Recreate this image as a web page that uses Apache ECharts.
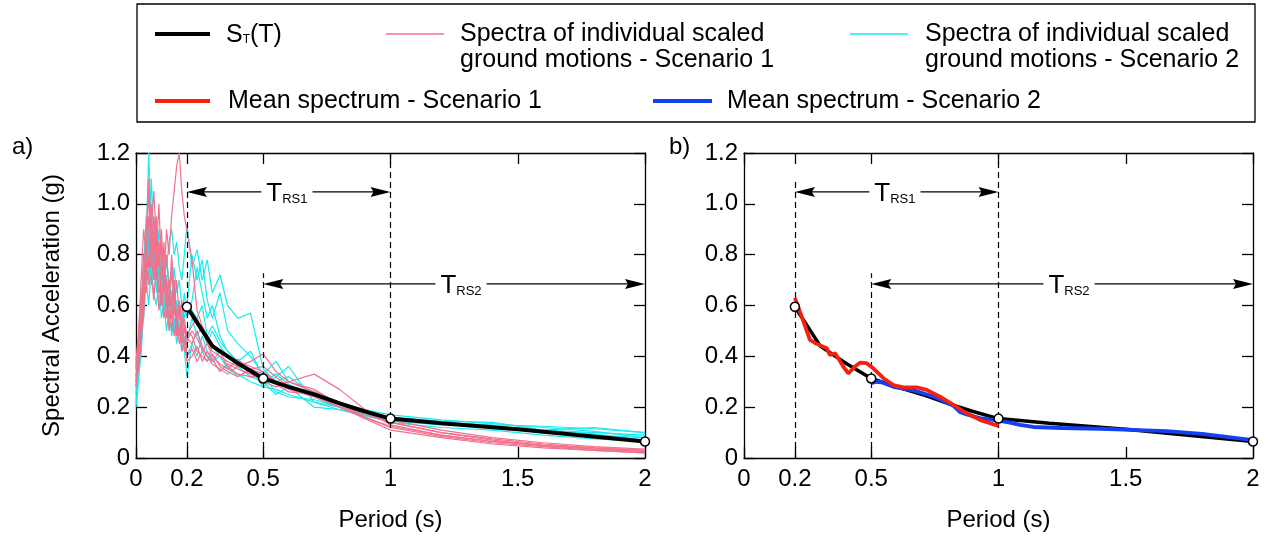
<!DOCTYPE html>
<html><head><meta charset="utf-8">
<script src="https://cdn.jsdelivr.net/npm/echarts@6/dist/echarts.min.js"></script>
<style>html,body{margin:0;padding:0;background:#fff}#c{width:1270px;height:545px}</style>
</head><body><div id="c"></div>
<script>
// ---------------- data ----------------
const periods = [0,0.01,0.02,0.03,0.04,0.05,0.06,0.07,0.08,0.09,
  0.10,0.11,0.12,0.13,0.14,0.15,0.16,0.17,0.18,0.19,
  0.20,0.22,0.24,0.26,0.28,0.30,0.33,0.36,0.40,0.45,
  0.50,0.55,0.60,0.70,0.80,0.90,1.00,1.20,1.40,1.60,
  1.80,2.00];

const scen1_gm1 = [0.30,0.35,0.45,0.60,0.75,0.70,0.85,0.80,0.95,0.75,0.85,0.70,0.90,0.80,0.95,1.05,1.15,1.20,1.05,0.95,0.90,0.78,0.58,0.52,0.48,0.45,0.42,0.40,0.38,0.36,0.34,0.30,0.27,0.24,0.20,0.16,0.125,0.09,0.065,0.05,0.035,0.025];
const scen1_gm2 = [0.28,0.40,0.55,0.70,0.90,1.10,0.85,0.95,0.80,1.00,0.75,0.70,0.80,0.65,0.75,0.60,0.70,0.55,0.62,0.50,0.48,0.52,0.55,0.50,0.45,0.42,0.40,0.38,0.36,0.35,0.33,0.30,0.28,0.25,0.21,0.17,0.14,0.10,0.075,0.055,0.04,0.03];
const scen1_gm3 = [0.35,0.45,0.60,0.80,0.70,0.95,0.90,1.05,0.85,0.75,0.90,0.65,0.70,0.60,0.80,0.65,0.55,0.60,0.50,0.55,0.47,0.45,0.50,0.44,0.40,0.38,0.42,0.36,0.33,0.32,0.32,0.29,0.26,0.25,0.22,0.18,0.15,0.11,0.08,0.06,0.045,0.035];
const scen1_gm4 = [0.38,0.50,0.65,0.55,0.85,0.75,1.00,0.70,0.80,0.65,0.70,0.85,0.60,0.70,0.55,0.65,0.50,0.58,0.45,0.52,0.40,0.43,0.38,0.42,0.45,0.40,0.37,0.35,0.39,0.34,0.30,0.28,0.30,0.27,0.21,0.16,0.12,0.085,0.06,0.045,0.03,0.02];
const scen1_gm5 = [0.32,0.42,0.50,0.70,0.65,0.80,0.75,0.90,0.70,0.85,0.60,0.75,0.65,0.55,0.60,0.70,0.52,0.48,0.55,0.45,0.50,0.48,0.42,0.40,0.38,0.41,0.36,0.34,0.32,0.35,0.36,0.32,0.28,0.25,0.20,0.155,0.11,0.08,0.055,0.04,0.03,0.02];
const scen1_gm6 = [0.30,0.38,0.48,0.62,0.78,0.68,0.72,0.62,0.78,0.58,0.65,0.55,0.62,0.50,0.58,0.48,0.55,0.45,0.50,0.42,0.46,0.50,0.47,0.43,0.40,0.37,0.35,0.33,0.36,0.38,0.41,0.34,0.30,0.26,0.22,0.18,0.14,0.10,0.07,0.05,0.04,0.03];
const scen1_gm7 = [0.36,0.48,0.70,0.90,0.80,1.05,0.80,0.70,0.90,0.80,0.62,0.70,0.55,0.65,0.50,0.60,0.48,0.52,0.42,0.46,0.38,0.40,0.44,0.38,0.42,0.39,0.34,0.37,0.35,0.33,0.31,0.29,0.30,0.33,0.27,0.19,0.13,0.09,0.065,0.05,0.035,0.025];

const scen2_gm1 = [0.20,0.30,0.45,0.60,0.85,1.20,0.90,0.75,0.80,0.65,0.70,0.60,0.72,0.55,0.65,0.50,0.60,0.48,0.55,0.42,0.32,0.45,0.40,0.48,0.42,0.38,0.40,0.35,0.33,0.30,0.28,0.27,0.25,0.22,0.19,0.17,0.15,0.135,0.125,0.11,0.10,0.09];
const scen2_gm2 = [0.25,0.35,0.50,0.70,0.65,0.90,0.80,0.95,0.75,0.85,0.70,0.80,0.75,0.85,0.90,0.80,0.85,0.75,0.70,0.80,0.92,0.75,0.82,0.70,0.78,0.65,0.72,0.60,0.55,0.57,0.35,0.30,0.32,0.25,0.21,0.18,0.16,0.145,0.14,0.11,0.12,0.10];
const scen2_gm3 = [0.30,0.40,0.55,0.75,0.95,0.80,1.10,0.85,0.70,0.90,0.80,0.65,0.78,0.70,0.60,0.75,0.65,0.70,0.60,0.55,0.60,0.80,0.70,0.78,0.62,0.55,0.65,0.50,0.45,0.40,0.33,0.38,0.30,0.26,0.22,0.19,0.17,0.15,0.135,0.12,0.105,0.08];
const scen2_gm4 = [0.35,0.42,0.48,0.55,0.70,0.60,0.75,0.65,0.60,0.70,0.55,0.62,0.50,0.58,0.48,0.55,0.45,0.52,0.42,0.48,0.40,0.45,0.50,0.42,0.38,0.44,0.40,0.36,0.32,0.35,0.30,0.33,0.29,0.24,0.20,0.17,0.15,0.14,0.13,0.125,0.115,0.10];
const scen2_gm5 = [0.28,0.38,0.52,0.68,0.80,0.70,0.85,0.72,0.95,0.78,0.65,0.75,0.68,0.60,0.72,0.65,0.58,0.62,0.55,0.65,0.55,0.62,0.75,0.65,0.55,0.60,0.48,0.42,0.38,0.35,0.28,0.32,0.36,0.22,0.20,0.17,0.14,0.12,0.11,0.09,0.075,0.065];
const scen2_gm6 = [0.22,0.33,0.40,0.58,0.72,0.95,0.68,0.80,0.65,0.75,0.60,0.70,0.62,0.52,0.66,0.56,0.62,0.50,0.58,0.52,0.46,0.55,0.48,0.52,0.45,0.50,0.44,0.40,0.36,0.32,0.30,0.25,0.28,0.20,0.19,0.165,0.145,0.13,0.12,0.10,0.09,0.08];
const scen2_gm7 = [0.32,0.40,0.50,0.62,0.78,0.88,0.72,0.85,0.68,0.60,0.78,0.58,0.66,0.62,0.55,0.70,0.52,0.60,0.50,0.58,0.62,0.58,0.55,0.60,0.48,0.52,0.46,0.42,0.38,0.42,0.32,0.26,0.24,0.23,0.20,0.18,0.16,0.14,0.125,0.11,0.095,0.07];

const scen1Spectra = [scen1_gm1,scen1_gm2,scen1_gm3,scen1_gm4,scen1_gm5,scen1_gm6,scen1_gm7];
const scen2Spectra = [scen2_gm1,scen2_gm2,scen2_gm3,scen2_gm4,scen2_gm5,scen2_gm6,scen2_gm7];

const targetPeriods = [0.2,0.3,0.4,0.5,0.6,0.7,0.8,0.9,1.0,1.2,1.5,2.0];
const targetSa      = [0.595,0.44,0.373,0.313,0.28,0.25,0.215,0.183,0.155,0.137,0.113,0.065];
const anchorPeriods = [0.2,0.5,1.0,2.0];

const mean1Periods = [0.2,0.227,0.259,0.286,0.325,0.338,0.358,0.39,0.41,0.436,0.456,0.482,0.508,0.548,0.587,0.626,0.679,0.718,0.77,0.823,0.875,0.927,1.0];
const mean1Sa      = [0.63,0.556,0.465,0.449,0.432,0.405,0.412,0.36,0.333,0.36,0.375,0.373,0.353,0.314,0.287,0.278,0.278,0.268,0.241,0.209,0.176,0.15,0.126];
const mean2Periods = [0.5,0.52,0.54,0.587,0.67,0.75,0.823,0.85,0.875,0.927,1.0,1.04,1.084,1.136,1.25,1.4,1.55,1.66,1.8,2.0];
const mean2Sa      = [0.294,0.3,0.298,0.28,0.265,0.24,0.205,0.18,0.171,0.157,0.147,0.14,0.13,0.122,0.118,0.115,0.11,0.106,0.095,0.07];

const xTickValues = [0,0.2,0.5,1,1.5,2];
const yTicks = {min:0, max:1.2, interval:0.2};

// annotation definitions (period ranges and levels)
const rangeArrows = [
  {from:0.2, to:1.0, level:1.047, labelAt:0.593, sub:'RS1'},
  {from:0.5, to:2.0, level:0.685, labelAt:1.277, sub:'RS2'}
];
const dashTops = [[0.2,1.094],[0.5,0.727],[1.0,1.2]];

// ---------------- chart ----------------
const FONT = '"Liberation Sans", Arial, sans-serif';
const PINK = '#F2718D', CYAN = '#1AEAF0', RED = '#F5200E', BLUE = '#1340F2';
const pairs = (xs, ys) => xs.map((x,i)=>[x, ys[i]]);
const anchorData = anchorPeriods.map(p => [p, targetSa[targetPeriods.indexOf(p)]]);

const chart = echarts.init(document.getElementById('c'), null, {renderer:'canvas'});

function xAxes(gi){
  const common = {type:'value', gridIndex:gi, min:0, max:2, splitLine:{show:false},
    axisLine:{show:true, onZero:false, lineStyle:{color:'#000', width:1.3}},
    axisTick:{show:true, inside:true, length:11, customValues:xTickValues, lineStyle:{color:'#000', width:1.3}}};
  return [
    Object.assign({}, common, {position:'bottom',
      axisLabel:{show:true, customValues:xTickValues, formatter:v=>String(+v.toFixed(1)), fontSize:24, color:'#000', fontFamily:FONT, margin:9},
      name:'Period (s)', nameLocation:'middle', nameGap:50,
      nameTextStyle:{fontSize:24, color:'#000', fontFamily:FONT}}),
    Object.assign({}, common, {position:'top', axisLabel:{show:false}})
  ];
}
function yAxes(gi, withName){
  const common = {type:'value', gridIndex:gi, min:yTicks.min, max:yTicks.max, interval:yTicks.interval, splitLine:{show:false},
    axisLine:{show:true, onZero:false, lineStyle:{color:'#000', width:1.3}},
    axisTick:{show:true, inside:true, length:11, lineStyle:{color:'#000', width:1.3}}};
  const left = Object.assign({}, common, {position:'left',
    axisLabel:{show:true, formatter:v=> v===0 ? '0' : v.toFixed(1), fontSize:24, color:'#000', fontFamily:FONT, margin:6}});
  if (withName) Object.assign(left, {name:'Spectral Acceleration (g)', nameLocation:'middle', nameGap:72,
      nameTextStyle:{fontSize:24, color:'#000', fontFamily:FONT}});
  return [left, Object.assign({}, common, {position:'right', axisLabel:{show:false}})];
}

const series = [];
function annotationSeries(xi, yi){
  series.push({type:'line', xAxisIndex:xi, yAxisIndex:yi, data:[], silent:true,
    markLine:{silent:true, symbol:'none', z:6, animation:false,
      lineStyle:{color:'#000', width:1.2, type:[6,4]}, label:{show:false},
      data: dashTops.map(d => [{coord:[d[0],0]},{coord:[d[0],d[1]]}])}});
  series.push({type:'custom', xAxisIndex:xi, yAxisIndex:yi, silent:true, z:7, clip:false,
    data: rangeArrows.map(r => [r.from, r.to, r.level, r.labelAt]),
    renderItem:(params, api) => {
      const r = rangeArrows[params.dataIndex];
      const p1 = api.coord([api.value(0), api.value(2)]);
      const p2 = api.coord([api.value(1), api.value(2)]);
      const pl = api.coord([api.value(3), api.value(2)]);
      const L = 20, H = 5, N = 3, y = p1[1];
      return {type:'group', children:[
        {type:'line', shape:{x1:p1[0]+4, y1:y, x2:p2[0]-4, y2:y}, style:{stroke:'#000', lineWidth:1.3}},
        {type:'polygon', shape:{points:[[p1[0],y],[p1[0]+L,y-H],[p1[0]+L-N,y],[p1[0]+L,y+H]]}, style:{fill:'#000'}},
        {type:'polygon', shape:{points:[[p2[0],y],[p2[0]-L,y-H],[p2[0]-L+N,y],[p2[0]-L,y+H]]}, style:{fill:'#000'}},
        {type:'text', x:pl[0], y:pl[1], z2:10, style:{text:'{t|T}{s|'+r.sub+'}', align:'center', verticalAlign:'middle',
          backgroundColor:'#fff', padding:[0,5,0,5],
          rich:{t:{fontSize:26, fontFamily:FONT, fill:'#000', lineHeight:30, verticalAlign:'bottom'},
                s:{fontSize:13, fontFamily:FONT, fill:'#000', lineHeight:14, verticalAlign:'bottom', padding:[0,0,1,0]}}}}
      ]};
    }});
}

// panel a
scen2Spectra.forEach(ys => series.push({type:'line', name:'Spectra of individual scaled ground motions - Scenario 2', xAxisIndex:0, yAxisIndex:0,
  data:pairs(periods, ys), symbol:'none', lineStyle:{color:CYAN, width:1.2}, silent:true, z:2}));
scen1Spectra.forEach(ys => series.push({type:'line', name:'Spectra of individual scaled ground motions - Scenario 1', xAxisIndex:0, yAxisIndex:0,
  data:pairs(periods, ys), symbol:'none', lineStyle:{color:PINK, width:1.2}, silent:true, z:2}));
annotationSeries(0,0);
series.push({type:'line', name:'S_T(T)', xAxisIndex:0, yAxisIndex:0, data:pairs(targetPeriods, targetSa),
  symbol:'none', lineStyle:{color:'#000', width:4}, z:8});
series.push({type:'scatter', xAxisIndex:0, yAxisIndex:0, data:anchorData, symbol:'circle', symbolSize:9,
  itemStyle:{color:'#fff', borderColor:'#000', borderWidth:1.5, opacity:1}, z:10, clip:false});

// panel b
annotationSeries(2,2);
series.push({type:'line', name:'S_T(T)', xAxisIndex:2, yAxisIndex:2, data:pairs(targetPeriods, targetSa),
  symbol:'none', lineStyle:{color:'#000', width:3.5}, z:8});
series.push({type:'line', name:'Mean spectrum - Scenario 2', xAxisIndex:2, yAxisIndex:2, data:pairs(mean2Periods, mean2Sa),
  symbol:'none', lineStyle:{color:BLUE, width:3.8}, z:9});
series.push({type:'line', name:'Mean spectrum - Scenario 1', xAxisIndex:2, yAxisIndex:2, data:pairs(mean1Periods, mean1Sa),
  symbol:'none', lineStyle:{color:RED, width:3.8}, z:9});
series.push({type:'scatter', xAxisIndex:2, yAxisIndex:2, data:anchorData, symbol:'circle', symbolSize:9,
  itemStyle:{color:'#fff', borderColor:'#000', borderWidth:1.5, opacity:1}, z:10, clip:false});

// legend drawn as graphic (texts kept as real text)
const LF = 25;
const txt = (x, y, text, extra) => ({type:'text', x, y, silent:true,
  style:Object.assign({text, fontSize:LF, fontFamily:FONT, fill:'#000', verticalAlign:'middle', align:'left'}, extra||{})});
const seg = (x1, x2, y, color, w) => ({type:'line', silent:true, shape:{x1, y1:y, x2, y2:y}, style:{stroke:color, lineWidth:w}});
const legendRow1 = 34, legendRow3 = 101;
const graphic = [
  {type:'rect', silent:true, shape:{x:137, y:4, width:1118, height:118}, style:{fill:'none', stroke:'#000', lineWidth:1.3}},
  seg(155, 210, legendRow1, '#000', 4),
  txt(226, legendRow1, '{a|S}{b|T}{a|(T)}', {rich:{a:{fontSize:LF, fontFamily:FONT, fill:'#000', lineHeight:28, verticalAlign:'bottom'},
                                              b:{fontSize:12, fontFamily:FONT, fill:'#000', lineHeight:12, verticalAlign:'bottom', padding:[0,0,2,0]}}}),
  seg(386, 444, legendRow1, PINK, 1.3),
  txt(460, legendRow1 - 13, 'Spectra of individual scaled\nground motions - Scenario 1', {verticalAlign:'top', lineHeight:26}),
  seg(850, 908, legendRow1, CYAN, 1.3),
  txt(925, legendRow1 - 13, 'Spectra of individual scaled\nground motions - Scenario 2', {verticalAlign:'top', lineHeight:26}),
  seg(155, 210, legendRow3, RED, 4),
  txt(228, legendRow3, 'Mean spectrum - Scenario 1'),
  seg(653, 712, legendRow3, BLUE, 4),
  txt(727, legendRow3, 'Mean spectrum - Scenario 2'),
  {type:'text', x:12, y:147, silent:true, style:{text:'a)', fontSize:24, fontFamily:FONT, fill:'#000', verticalAlign:'middle'}},
  {type:'text', x:669, y:147, silent:true, style:{text:'b)', fontSize:24, fontFamily:FONT, fill:'#000', verticalAlign:'middle'}}
];

chart.setOption({
  animation:false,
  backgroundColor:'#fff',
  textStyle:{fontFamily:FONT},
  grid:[{left:136, top:153, width:509, height:305, containLabel:false},
        {left:744, top:153, width:509, height:305, containLabel:false}],
  xAxis:[...xAxes(0), ...xAxes(1)],
  yAxis:[...yAxes(0,true), ...yAxes(1,false)],
  series,
  graphic
});
</script></body></html>
